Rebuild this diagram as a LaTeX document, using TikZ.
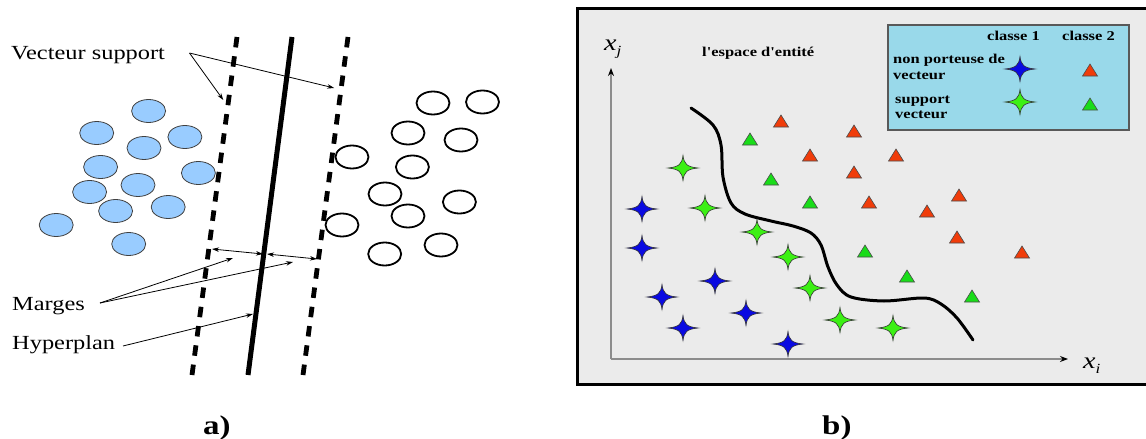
\documentclass[tikz,border=0pt]{standalone}
\usepackage{fontspec}
\newfontfamily\labfont{Liberation Serif}[FakeStretch=1.22]
\usetikzlibrary{arrows.meta}
\definecolor{circblue}{RGB}{153,204,255}
\definecolor{panelbg}{RGB}{235,235,235}
\definecolor{legendbg}{RGB}{153,217,234}
\definecolor{starblue}{RGB}{10,10,225}
\definecolor{stargreen}{RGB}{60,240,20}
\definecolor{trired}{RGB}{240,60,10}
\definecolor{trigreen}{RGB}{25,220,25}
\definecolor{axisgray}{RGB}{140,140,140}
\tikzset{
  bigtext/.style={font=\labfont\fontsize{20}{24}\selectfont, anchor=base west, inner sep=0pt},
  paneltag/.style={font=\labfont\bfseries\fontsize{27}{30}\selectfont, anchor=base west, inner sep=0pt},
  smallbold/.style={font=\labfont\bfseries\fontsize{13.5}{15}\selectfont, anchor=base west, inner sep=0pt},
  axislabel/.style={font=\labfont\itshape\fontsize{23}{24}\selectfont, anchor=base west, inner sep=0pt},
  marginline/.style={line width=4.8pt, dash pattern=on 10.5pt off 8.94pt},
  hyperline/.style={line width=5pt},
  pointer/.style={line width=0.8pt, -{Stealth[length=7pt,width=4.5pt]}},
  twoway/.style={line width=0.8pt, {Stealth[length=7pt,width=4.5pt]}-{Stealth[length=7pt,width=4.5pt]}},
  bluedot/.style={fill=circblue, draw=black!75, line width=0.8pt},
  whitedot/.style={fill=white, draw=black, line width=1.8pt},
  axis/.style={draw=axisgray, line width=1.2pt, -{Stealth[length=8pt,width=6pt,color=black]}},
  boundary/.style={line width=3pt, line cap=round, line join=round},
  starmark/.pic={\filldraw[fill=#1, draw=black!80, line width=0.6pt]
     (15,0) .. controls (4,1.1) and (1.1,3.8) .. (0,12.5) .. controls (-1.1,3.8) and (-4,1.1) .. (-15,0)
     .. controls (-4,-1.1) and (-1.1,-3.8) .. (0,-12.5) .. controls (1.1,-3.8) and (4,-1.1) .. (15,0) -- cycle;},
  trimark/.pic={\filldraw[fill=#1, draw=black!70, line width=0.6pt] (-7.5,6) -- (7.5,6) -- (0,-6) -- cycle;}
}
\begin{document}
\begin{tikzpicture}[x=1pt,y=-1pt]
\useasboundingbox (0,0) rectangle (1146,439);

% ---------------- panel a ----------------
\coordinate (LDt) at (237,37); \coordinate (LDb) at (192,375);
\coordinate (Ht)  at (292,37); \coordinate (Hb)  at (248,375);
\coordinate (RDt) at (348,37); \coordinate (RDb) at (303,375);
\draw[marginline] (LDt) -- (LDb);
\draw[hyperline]  (Ht) -- (Hb);
\draw[marginline] (RDt) -- (RDb);

\foreach \x/\y in {148.6/111, 96.7/133, 184.9/137, 144/148, 100.6/167, 198.4/173,
                   138/185, 89.6/192, 115.6/211, 168.2/207, 56.2/225, 128.7/244}
  \draw[bluedot] (\x,\y) ellipse [x radius=17, y radius=11.5];
\foreach \x/\y in {433/103, 482.5/102, 408/133, 461/140, 352/157, 412.4/167,
                   385/194, 459.4/202, 408/216, 342/225, 441/245, 384.7/254}
  \draw[whitedot] (\x,\y) ellipse [x radius=16.5, y radius=11.5];

\node[bigtext] (vs) at (11,59) {Vecteur support};
\node[bigtext] (mg) at (12,310) {Marges};
\node[bigtext] (hp) at (12,349) {Hyperplan};
\node[paneltag] (ta) at (203,434) {a)};

\coordinate (vsS) at (189.5,53);
\coordinate (vsL) at (223.3,100);
\coordinate (vsR) at (334.2,88);
\draw[pointer] (vsS) -- (vsL);
\draw[pointer] (vsS) -- (vsR);

\coordinate (m1a) at (212,249); \coordinate (m1b) at (263,254);
\coordinate (m2a) at (267,254); \coordinate (m2b) at (317,259);
\draw[twoway] (m1a) -- (m1b);
\draw[twoway] (m2a) -- (m2b);

\coordinate (mgS) at (100,303);
\coordinate (mgA) at (233,258);
\coordinate (mgB) at (293,262);
\draw[pointer] (mgS) -- (mgA);
\draw[pointer] (mgS) -- (mgB);

\coordinate (hpS) at (123,346);
\coordinate (hpE) at (253,314);
\draw[pointer] (hpS) -- (hpE);

% ---------------- panel b ----------------
\draw[line width=3pt, fill=panelbg] (577,8.5) rectangle (1155,384.5);
\coordinate (orig) at (611,359);
\coordinate (xend) at (1068,359);
\coordinate (yend) at (611,68);
\draw[axis] (orig) -- (xend);
\draw[axis] (orig) -- (yend);
\node[axislabel] (xj) at (604,50) {x\raisebox{-5pt}{\fontsize{14}{14}\selectfont j}};
\node[axislabel] (xi) at (1083,368) {x\raisebox{-5pt}{\fontsize{14}{14}\selectfont i}};
\node[smallbold] (esp) at (702,56) {l'espace d'entité};

\draw[boundary] plot[smooth, tension=0.55] coordinates {
  (691,108) (713,125) (721,145) (723,177) (731,203) (745,214) (771,221) (793,226)
  (811,233) (821,245) (828,267) (837,285) (851,297) (884,301) (924,298)
  (941,304) (957,318) (973,340)};

% legend
\draw[fill=legendbg, draw=black!65, line width=1.5pt] (888,25) rectangle (1129,130);
\node[smallbold] (c1) at (987,40) {classe 1};
\node[smallbold] (c2) at (1062,40) {classe 2};
\node[smallbold] (np1) at (893,63) {non porteuse de};
\node[smallbold] (np2) at (893,79) {vecteur};
\node[smallbold] (sv1) at (895,103) {support};
\node[smallbold] (sv2) at (895,118) {vecteur};
\pic at (1020,69) {starmark=starblue};
\pic at (1090,70) {trimark=trired};
\pic at (1020,102) {starmark=stargreen};
\pic at (1090,104) {trimark=trigreen};

% data points
\foreach \x/\y in {781/121, 854/131, 810/155, 896/155, 854/172, 869/202, 959/195, 927/211, 957/237, 1022/252}
  \pic at (\x,\y) {trimark=trired};
\foreach \x/\y in {750/139, 771/179, 810/202, 865/251, 907/276, 972/296}
  \pic at (\x,\y) {trimark=trigreen};
\foreach \x/\y in {642/209, 642/248, 715/281, 662/297, 746/313, 683/328, 788/344}
  \pic at (\x,\y) {starmark=starblue};
\foreach \x/\y in {683/168, 705/208, 757/232, 788/257, 810/288, 840/320, 893/328}
  \pic at (\x,\y) {starmark=stargreen};

\node[paneltag] (tb) at (822,434) {b)};
\end{tikzpicture}
\end{document}
